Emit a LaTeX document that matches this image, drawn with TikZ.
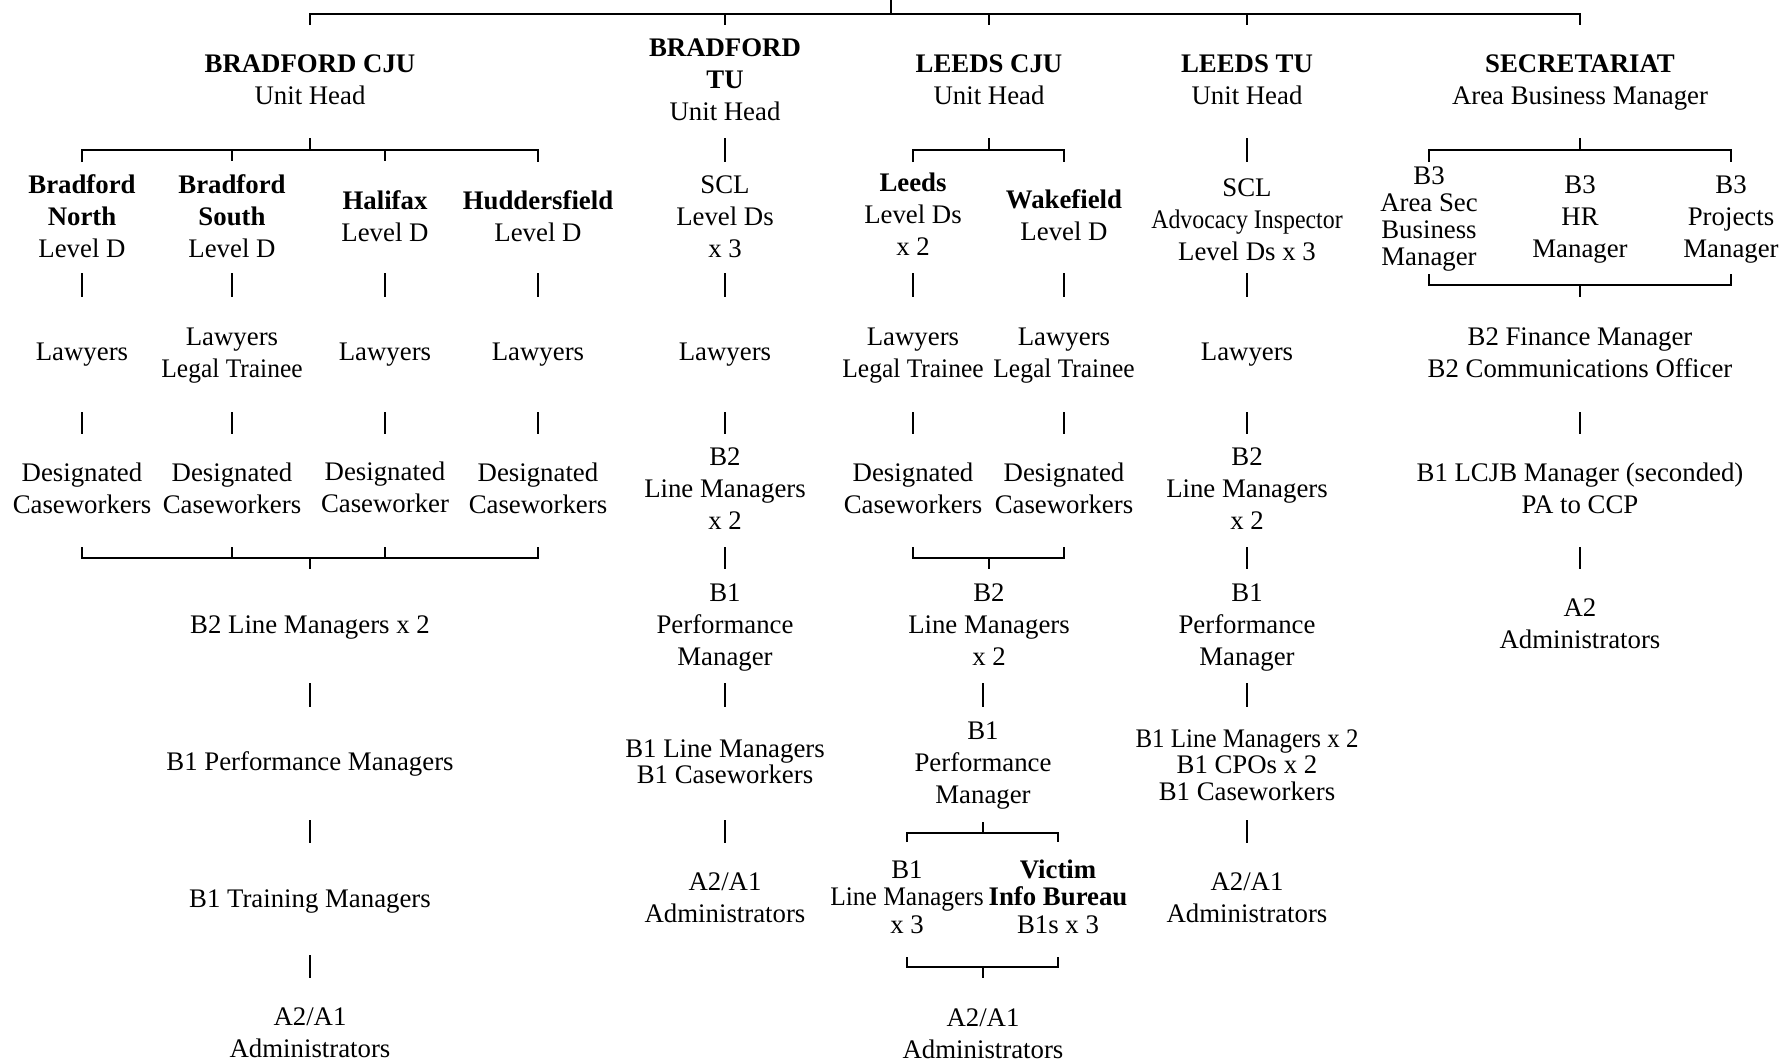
\documentclass[tikz,border=0pt]{standalone}
\usepackage{fontspec}
\setmainfont{Liberation Serif}
\newcommand{\mylsl}{\lineskiplimit -20pt\relax}
\newcommand{\lgt}{\scalebox{0.95}[1]{Legal Trainee}}
\tikzset{
  lbl/.style={align=center, anchor=base, inner sep=0pt, font={\fontsize{13.4}{16}\selectfont\mylsl}},
  sp/.style={lbl, font={\fontsize{13.4}{#1}\selectfont\mylsl}},
  conn/.style={line width=1.25pt, line join=miter}
}
\begin{document}
\begin{tikzpicture}[x=0.5pt,y=-0.5pt]
\useasboundingbox (0,0) rectangle (1789,1061);
% headings (anchor = baseline of last line)
\coordinate (root) at (891,-3);
\node[lbl] (bcju) at (310,104) {\textbf{BRADFORD CJU}\\Unit Head};
\node[lbl] (btu) at (725,120) {\textbf{BRADFORD}\\\textbf{TU}\\Unit Head};
\node[lbl] (lcju) at (989,104) {\textbf{LEEDS CJU}\\Unit Head};
\node[lbl] (ltu) at (1247,104) {\textbf{LEEDS TU}\\Unit Head};
\node[lbl] (sec) at (1580,104) {\textbf{SECRETARIAT}\\Area Business Manager};
% level row
\node[lbl] (bn) at (82,257) {\textbf{Bradford}\\\textbf{North}\\Level D};
\node[lbl] (bs) at (232,257) {\textbf{Bradford}\\\textbf{South}\\Level D};
\node[lbl] (hx) at (385,241) {\textbf{Halifax}\\Level D};
\node[lbl] (hd) at (538,241) {\textbf{Huddersfield}\\Level D};
\node[lbl] (bscl) at (725,257) {SCL\\Level Ds\\x 3};
\node[lbl] (ld) at (913,255) {\textbf{Leeds}\\Level Ds\\x 2};
\node[lbl] (wk) at (1064,240) {\textbf{Wakefield}\\Level D};
\node[lbl] (lscl) at (1247,260) {SCL\\\scalebox{0.89}[1]{Advocacy Inspector}\\Level Ds x 3};
\node[sp=13.35pt] (b3a) at (1429,265) {B3\\Area Sec\\Business\\Manager};
\node[lbl] (b3h) at (1580,257) {B3\\HR\\Manager};
\node[lbl] (b3p) at (1731,257) {B3\\Projects\\Manager};
% lawyers row
\node[lbl] (lw1) at (82,360) {Lawyers};
\node[lbl] (lw2) at (232,377) {Lawyers\\\lgt};
\node[lbl] (lw3) at (385,360) {Lawyers};
\node[lbl] (lw4) at (538,360) {Lawyers};
\node[lbl] (lw5) at (725,360) {Lawyers};
\node[lbl] (lw6) at (913,377) {Lawyers\\\lgt};
\node[lbl] (lw7) at (1064,377) {Lawyers\\\lgt};
\node[lbl] (lw8) at (1247,360) {Lawyers};
\node[lbl] (fin) at (1580,377) {B2 Finance Manager\\B2 Communications Officer};
% designated row
\node[lbl] (dc1) at (82,513) {Designated\\Caseworkers};
\node[lbl] (dc2) at (232,513) {Designated\\Caseworkers};
\node[lbl] (dc3) at (385,512) {Designated\\Caseworker};
\node[lbl] (dc4) at (538,513) {Designated\\Caseworkers};
\node[lbl] (blm) at (725,529) {B2\\Line Managers\\x 2};
\node[lbl] (dc6) at (913,513) {Designated\\Caseworkers};
\node[lbl] (dc7) at (1064,513) {Designated\\Caseworkers};
\node[lbl] (llm) at (1247,529) {B2\\Line Managers\\x 2};
\node[lbl] (lcjb) at (1580,513) {B1 LCJB Manager (seconded)\\PA to CCP};
% next row
\node[lbl] (b2lm) at (310,633) {B2 Line Managers x 2};
\node[lbl] (bpm) at (725,665) {B1\\Performance\\Manager};
\node[lbl] (l2lm) at (989,665) {B2\\Line Managers\\x 2};
\node[lbl] (lpm) at (1247,665) {B1\\Performance\\Manager};
\node[lbl] (a2) at (1580,648) {A2\\Administrators};
% next row
\node[lbl] (b1pm) at (310,770) {B1 Performance Managers};
\node[sp=13pt] (b1lm) at (725,783) {B1 Line Managers\\B1 Caseworkers};
\node[lbl] (lbpm) at (983,803) {B1\\Performance\\Manager};
\node[sp=13.25pt] (l1lm) at (1247,800) {\scalebox{0.93}[1]{B1 Line Managers x 2}\\B1 CPOs x 2\\B1 Caseworkers};
% next row
\node[lbl] (b1tm) at (310,907) {B1 Training Managers};
\node[lbl] (badm) at (725,922) {A2/A1\\Administrators};
\node[sp=13.75pt] (llm3) at (907,933) {B1\\\scalebox{0.95}[1]{Line Managers}\\x 3};
\node[sp=13.75pt] (vib) at (1058,933) {\textbf{Victim}\\\textbf{Info Bureau}\\B1s x 3};
\node[lbl] (ladm) at (1247,922) {A2/A1\\Administrators};
% final row
\node[lbl] (badm2) at (310,1057) {A2/A1\\Administrators};
\node[lbl] (ladm2) at (983,1058) {A2/A1\\Administrators};

% ---- connectors ----
\draw[conn] (root) -- (root |- 0,14);
\draw[conn] (bcju |- 0,25) -- (bcju |- 0,14) -- (sec |- 0,14) -- (sec |- 0,25);
\foreach \n in {btu,lcju,ltu} \draw[conn] (\n |- 0,14) -- (\n |- 0,25);
% under headings
\draw[conn] (bcju |- 0,138) -- (bcju |- 0,150);
\draw[conn] (bn |- 0,162) -- (bn |- 0,150) -- (hd |- 0,150) -- (hd |- 0,162);
\draw[conn] (bs |- 0,150) -- (bs |- 0,161);
\draw[conn] (hx |- 0,150) -- (hx |- 0,161);
\draw[conn] (btu |- 0,138) -- (bscl |- 0,162);
\draw[conn] (lcju |- 0,138) -- (lcju |- 0,150);
\draw[conn] (ld |- 0,162) -- (ld |- 0,150) -- (wk |- 0,150) -- (wk |- 0,162);
\draw[conn] (ltu |- 0,138) -- (lscl |- 0,162);
\draw[conn] (sec |- 0,138) -- (sec |- 0,150);
\draw[conn] (b3a |- 0,162) -- (b3a |- 0,150) -- (b3p |- 0,150) -- (b3p |- 0,162);
% level -> lawyers
\foreach \a/\b in {bn/lw1,bs/lw2,hx/lw3,hd/lw4,bscl/lw5,ld/lw6,wk/lw7,lscl/lw8}
  \draw[conn] (\a |- 0,273) -- (\b |- 0,297);
\draw[conn] (b3a |- 0,274) -- (b3a |- 0,285) -- (b3p |- 0,285) -- (b3p |- 0,274);
\draw[conn] (b3h |- 0,285) -- (fin |- 0,297);
% lawyers -> designated
\foreach \a/\b in {lw1/dc1,lw2/dc2,lw3/dc3,lw4/dc4,lw5/blm,lw6/dc6,lw7/dc7,lw8/llm,fin/lcjb}
  \draw[conn] (\a |- 0,412) -- (\b |- 0,434);
% designated -> next
\draw[conn] (dc1 |- 0,547) -- (dc1 |- 0,558) -- (dc4 |- 0,558) -- (dc4 |- 0,547);
\draw[conn] (dc2 |- 0,547) -- (dc2 |- 0,558);
\draw[conn] (dc3 |- 0,547) -- (dc3 |- 0,558);
\draw[conn] (b2lm |- 0,558) -- (b2lm |- 0,569);
\draw[conn] (blm |- 0,547) -- (bpm |- 0,569);
\draw[conn] (dc6 |- 0,547) -- (dc6 |- 0,558) -- (dc7 |- 0,558) -- (dc7 |- 0,547);
\draw[conn] (l2lm |- 0,558) -- (l2lm |- 0,569);
\draw[conn] (llm |- 0,547) -- (lpm |- 0,569);
\draw[conn] (lcjb |- 0,547) -- (a2 |- 0,569);
% next row bars
\draw[conn] (b2lm |- 0,683) -- (b1pm |- 0,707);
\draw[conn] (bpm |- 0,683) -- (b1lm |- 0,707);
\draw[conn] (lbpm |- 0,683) -- (lbpm |- 0,707);
\draw[conn] (lpm |- 0,683) -- (l1lm |- 0,707);
% next
\draw[conn] (b1pm |- 0,820) -- (b1tm |- 0,843);
\draw[conn] (b1lm |- 0,820) -- (badm |- 0,843);
\draw[conn] (l1lm |- 0,820) -- (ladm |- 0,843);
\draw[conn] (lbpm |- 0,822) -- (lbpm |- 0,833);
\draw[conn] (llm3 |- 0,842) -- (llm3 |- 0,833) -- (vib |- 0,833) -- (vib |- 0,842);
% last
\draw[conn] (b1tm |- 0,955) -- (badm2 |- 0,978);
\draw[conn] (llm3 |- 0,957) -- (llm3 |- 0,967) -- (vib |- 0,967) -- (vib |- 0,957);
\draw[conn] (ladm2 |- 0,967) -- (ladm2 |- 0,978);
\end{tikzpicture}
\end{document}
